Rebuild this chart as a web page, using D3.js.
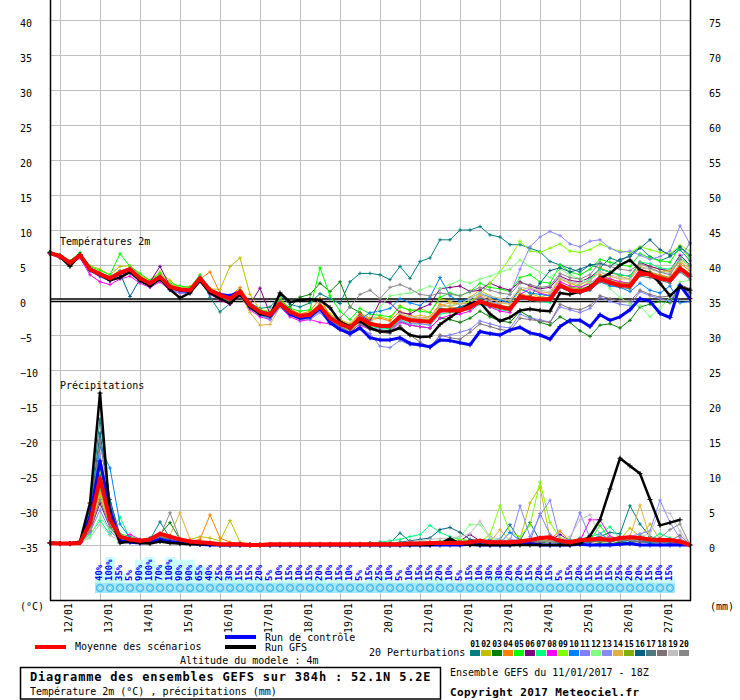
<!DOCTYPE html>
<html>
<head>
<meta charset="utf-8">
<script src="https://cdn.jsdelivr.net/npm/d3@7"></script>
<style>
  body { margin: 0; background: #fff; }
  svg { display: block; font-family: "DejaVu Sans Mono", monospace; }
</style>
</head>
<body>
<svg id="chart" width="740" height="700"></svg>
<script>
// GEFS run 11/01/2017 18Z, 6-hourly steps up to 384h
const hours = d3.range(0, 385, 6);

const tempTicks = [40, 35, 30, 25, 20, 15, 10, 5, 0, -5, -10, -15, -20, -25, -30, -35];
const precipTicks = [75, 70, 65, 60, 55, 50, 45, 40, 35, 30, 25, 20, 15, 10, 5, 0];
const dateHours = [6, 30, 54, 78, 102, 126, 150, 174, 198, 222, 246, 270, 294, 318, 342, 366];
const dateLabels = ['12/01', '13/01', '14/01', '15/01', '16/01', '17/01', '18/01', '19/01',
  '20/01', '21/01', '22/01', '23/01', '24/01', '25/01', '26/01', '27/01'];

// probability of precipitation per 6h slot (%)
const probHours = d3.range(30, 373, 6);
const probValues = [40, 100, 35, 5, 90, 100, 70, 100, 90, 90, 65, 40, 25, 30, 15, 15, 20, 5, 10,
  15, 10, 15, 20, 10, 15, 10, 5, 15, 25, 10, 5, 10, 15, 15, 20, 10, 5, 15,
  10, 30, 30, 20, 20, 15, 20, 15, 5, 15, 20, 15, 15, 15, 25, 20, 20, 15, 10, 15];

const pertColors = ['#008080', '#c0c000', '#008000', '#ff8000', '#00ff00', '#800080', '#00ff80',
  '#ff00ff', '#80ff00', '#0080ff', '#8080ff', '#80ff80', '#8888ff', '#e0b040', '#80b000',
  '#006080', '#507880', '#807078', '#c0c0c0', '#888888'];

// 2m temperature (°C)
const meanTemp = [6.7,6.3,5.3,6.4,4.4,3.7,3.1,3.9,4.4,3.1,2.4,3.3,1.9,
  1.5,1.4,3.1,1.4,0.7,0.2,1.2,-0.7,-1.7,-2.1,-0.5,-1.7,-2.3,
  -2.1,-0.9,-2.6,-3.4,-4.0,-2.6,-3.4,-3.7,-3.7,-2.4,-2.9,-3.0,-3.1,
  -1.5,-1.5,-1.5,-1.0,-0.2,-0.7,-1.0,-1.3,0.5,0.2,0.1,0.1,2.1,
  1.4,1.2,1.7,3.0,2.5,2.1,2.0,3.9,3.6,3.1,2.8,4.5,3.4];
const gfsTemp = [6.8,6.2,4.8,6.5,4.5,3.6,2.8,3.2,4.0,2.8,2.0,3.0,1.5,
  0.3,1.0,2.8,1.0,0.2,-0.5,0.8,-1.0,-2.0,-2.2,1.0,-0.3,0.0,
  0.1,0.0,-1.1,-3.1,-3.8,-3.0,-4.0,-4.5,-4.5,-4.0,-5.0,-5.3,-5.2,
  -3.5,-2.5,-1.5,-0.5,-0.3,-2.0,-3.0,-2.5,-1.5,-1.3,-1.5,-1.6,1.0,
  0.8,1.2,1.9,3.1,3.8,5.0,5.7,4.3,3.8,2.4,0.6,1.9,1.4];
const ctrlTemp = [6.7,6.3,5.2,6.4,4.3,3.6,3.0,3.8,4.3,3.0,2.4,3.2,1.8,
  1.4,1.2,3.0,1.4,0.8,0.6,1.2,-0.8,-1.9,-2.3,-0.6,-2.0,-2.6,
  -2.4,-1.2,-3.2,-4.2,-4.8,-4.0,-5.4,-5.7,-5.7,-5.4,-6.2,-6.4,-6.7,
  -5.7,-5.8,-6.1,-6.4,-4.5,-4.8,-5.0,-4.3,-3.9,-4.7,-5.0,-5.6,-3.8,
  -2.9,-2.9,-3.8,-2.1,-2.9,-2.4,-1.4,0.2,-0.2,-1.9,-2.5,2.1,0.2];
const pertTemp = [
  [6.8,6.2,5.5,6.2,4.6,3.9,3.3,4.2,4.0,3.3,2.6,3.6,2.1, 1.7,1.2,3.4,0.4,-1.7,-0.5,1.0,-0.4,-1.2,-1.0,0.6,-0.6,-1.0,
   -0.4,0.9,0.2,-0.5,2.6,3.8,3.8,3.6,2.9,4.8,3.1,5.5,6.0, 8.6,8.6,10.0,10.0,10.5,9.3,9.0,7.9,7.9,7.4,6.9,5.5,5.0,
   4.5,4.0,5.0,4.6,6.0,5.5,6.5,7.5,6.2,5.6,6.2,7.2,5.6],
  [6.6,6.4,5.6,6.6,4.9,4.4,3.6,4.8,4.9,3.6,2.8,4.0,2.8, 1.6,1.8,3.4,1.6,1.5,4.8,6.0,0.8,-1.4,-1.6,0.2,-1.2,-2.0,
   -1.8,-0.4,-2.0,-2.8,-3.4,-1.8,-2.6,-2.4,-2.8,-0.8,-1.6,-1.2,-1.8, 0.2,-0.2,-0.6,0.4,1.4,0.6,0.2,-0.2,1.6,1.0,0.4,0.8,3.0,
   2.4,1.8,2.6,4.6,4.0,3.4,3.0,5.4,4.8,4.4,4.0,5.8,4.8],
  [6.7,6.3,5.2,6.5,4.3,3.6,3.0,3.8,4.6,3.0,2.2,3.2,1.7, 1.2,1.0,2.9,1.0,0.2,-0.2,0.6,-1.2,-2.2,-2.6,-0.8,-1.0,0.4,
   0.8,2.4,1.2,2.6,-1.0,-1.8,-3.2,-3.8,-4.2,-3.0,-3.6,-3.8,-4.0, -2.6,-2.8,-3.2,-2.6,-1.6,-2.4,-3.0,-3.2,-1.6,-2.4,-3.2,-3.6,-2.4,
   -3.2,-4.4,-5.2,-3.6,-3.4,-4.0,-2.9,-1.0,-0.6,-0.2,-0.4,1.8,1.0],
  [6.5,6.0,5.0,6.2,4.2,3.5,2.9,3.6,4.2,2.9,2.3,3.0,2.2, 1.8,1.9,3.0,4.0,1.0,0.5,1.8,-0.4,-2.0,-2.4,-0.2,-1.4,-2.0,
   -1.6,0.2,-2.2,-3.0,-3.6,-2.0,-2.8,-2.6,-3.0,-1.6,-2.2,-2.6,-2.4, -0.6,-1.0,-1.2,-0.4,0.6,-0.2,-0.8,-1.0,0.8,0.6,0.2,0.0,2.4,
   1.6,1.4,1.8,3.6,3.0,2.6,2.4,4.4,4.0,3.6,3.2,5.2,4.2],
  [6.9,6.5,5.6,6.8,4.8,4.2,3.6,6.6,4.8,3.8,2.8,3.8,2.4, 2.0,1.8,3.6,1.6,0.8,0.2,1.4,-0.6,-1.4,-1.8,0.0,-1.2,-1.6,
   -1.4,4.6,0.6,-1.6,-2.8,-1.2,-2.0,-2.2,-2.4,-1.0,-1.4,-1.6,-1.8, 0.4,1.0,0.6,1.2,2.4,1.8,1.6,1.2,3.2,3.6,2.6,2.4,5.0,
   4.0,3.6,4.4,5.8,5.4,5.0,4.8,6.6,6.0,5.6,5.4,7.6,6.0],
  [6.6,6.2,5.4,6.3,4.4,3.8,3.2,4.0,4.5,3.2,2.6,4.8,2.0, 1.6,1.6,3.3,1.4,0.6,0.0,1.0,-0.6,1.7,-2.0,-0.2,-1.4,-2.2,
   -2.0,-0.6,-2.4,-3.2,-3.8,-2.2,-3.0,-0.2,-0.4,-1.8,-2.0,-1.2,-0.6, 1.6,1.8,2.0,1.2,1.4,2.4,1.8,1.4,2.6,2.0,1.6,1.8,3.4,
   2.8,2.6,3.2,4.4,4.0,3.6,3.4,5.4,4.8,4.4,4.2,6.4,5.0],
  [6.8,6.4,5.4,6.5,4.5,3.6,3.0,3.8,4.3,3.0,2.3,3.2,1.8, 1.4,1.3,3.0,1.2,0.5,0.0,1.0,-0.9,-2.0,-2.4,-0.8,-2.0,-2.6,
   -2.4,-1.2,-3.0,-3.8,-4.4,-3.0,-3.8,-4.0,-4.2,-2.8,-3.4,-3.4,-3.6, -2.0,-1.8,-1.6,-1.4,-0.6,-1.0,-1.4,-1.6,0.4,0.0,-0.2,-0.4,2.0,
   1.6,2.2,3.0,4.4,4.0,3.6,3.4,5.4,5.2,4.6,4.4,6.0,5.0],
  [6.5,6.0,5.0,6.0,3.6,2.6,2.2,3.0,3.4,2.4,1.8,2.6,1.4, 1.0,1.0,2.6,0.8,0.0,-0.6,0.6,-1.4,-2.4,-2.8,-1.0,-2.4,-3.0,
   -2.8,-3.2,-3.4,-4.2,-5.0,-3.6,-4.2,-4.4,-4.6,-3.2,-3.6,-3.8,-4.0, -2.6,-2.2,-2.0,-1.6,-0.4,-1.0,-1.6,-1.8,0.8,1.6,1.0,0.6,2.6,
   2.0,1.8,2.4,3.4,3.0,2.6,2.4,4.4,3.8,3.4,3.0,4.8,3.6],
  [6.7,6.3,5.3,6.3,4.4,3.8,3.3,4.1,4.6,3.4,2.6,3.4,2.2, 1.8,1.6,3.2,1.6,0.8,0.4,1.2,-0.6,-1.6,-2.0,-0.4,-1.6,-2.2,
   -2.0,-0.8,-2.6,-3.2,-3.8,-2.4,-3.2,-3.6,-3.6,-2.2,-2.6,-2.8,-2.8, -1.0,-0.8,-0.6,-0.2,0.8,2.4,4.0,6.0,8.4,7.0,6.8,7.4,8.0,
   7.0,6.8,7.2,8.0,7.4,7.0,6.8,7.6,7.2,6.8,6.6,7.8,7.0],
  [6.8,6.4,5.4,6.4,4.4,3.6,3.0,3.7,4.2,3.0,2.3,3.1,1.8, 1.2,1.2,2.8,1.3,0.4,-0.2,0.9,-1.0,-2.0,-2.5,-0.8,-2.0,-2.6,
   -2.4,-1.4,-2.8,-3.6,-4.2,-2.8,-1.8,-1.6,-1.2,0.2,-0.4,-0.8,0.4, 3.2,0.6,-0.2,0.2,1.0,0.4,0.0,-0.4,1.6,1.0,0.8,0.6,1.8,
   1.2,1.0,1.4,2.6,2.0,1.8,1.2,2.4,1.4,1.0,2.0,-0.4,-0.2],
  [6.6,6.1,5.1,6.1,4.1,3.3,2.7,3.4,3.8,2.6,1.9,2.8,1.4, 1.0,0.9,2.6,0.8,0.2,-0.4,0.6,-1.2,-2.2,-2.8,-1.0,-2.2,-2.8,
   -2.8,-1.8,-3.4,-4.2,-5.0,-4.0,-4.8,-6.6,-6.8,-5.8,-6.4,-6.6,-6.8, -5.2,-5.0,-4.6,-4.2,-3.0,-3.4,-3.8,-4.0,-2.0,-2.6,-2.8,-3.2,-1.0,
   -1.4,-1.8,-1.2,0.4,-0.2,-0.6,-0.8,1.2,0.6,0.2,-0.2,2.0,1.0],
  [6.7,6.2,5.2,6.3,4.3,3.7,3.1,3.8,4.4,3.0,2.4,3.2,1.8, 1.4,1.3,3.0,1.3,0.6,0.0,1.0,-0.8,-1.8,-2.2,-0.6,-1.8,-2.4,
   -2.2,-1.0,-2.8,-3.6,-4.4,-3.0,-3.6,-1.0,0.6,0.8,1.0,1.4,2.0, 1.6,2.2,2.8,2.4,3.0,3.4,4.0,4.4,5.7,4.8,4.0,3.2,4.4,
   3.6,3.0,2.4,3.2,1.6,0.4,-0.6,-0.8,-2.4,-1.2,0.4,2.6,2.8],
  [6.6,6.2,5.2,6.3,4.2,3.5,2.9,3.6,4.0,2.8,2.2,3.0,1.6, 1.2,1.1,2.8,1.0,0.3,-0.2,0.8,-1.0,-2.0,-2.6,-0.8,-2.0,-2.6,
   -2.6,-1.6,-3.0,-3.8,-4.6,-3.4,-4.0,-4.2,-4.4,-3.0,-3.4,-3.4,-3.6, -1.8,-1.4,-1.0,-0.4,0.4,-0.2,-0.6,0.8,4.4,7.6,9.0,9.8,9.2,
   8.0,7.6,8.4,8.6,7.4,6.8,7.0,6.4,5.8,6.2,7.0,10.6,8.0],
  [6.6,6.1,5.1,6.2,4.2,3.5,2.9,3.6,4.1,2.9,2.3,3.1,1.7, 1.4,1.2,2.9,1.2,0.4,-0.1,0.8,-1.8,-3.6,-3.5,-1.0,-2.0,-2.6,
   -2.4,-1.2,-2.8,-3.8,-4.6,-3.0,-3.6,-3.8,-3.4,-2.0,-2.4,-2.2,-2.4, -0.8,-0.4,-0.6,-0.4,0.8,0.2,-0.4,-0.6,1.4,1.8,1.2,1.0,3.0,
   2.4,2.2,2.8,4.0,3.4,3.0,3.0,4.8,4.4,4.0,4.2,5.4,4.6],
  [6.7,6.3,5.4,6.4,4.5,3.8,3.2,4.0,4.5,3.2,2.5,3.4,2.0, 1.6,1.5,3.2,1.5,0.7,0.2,1.2,-0.7,-1.6,-2.0,-0.4,-1.6,-2.2,
   -2.0,-0.8,-2.5,-3.3,-3.9,-2.5,-3.3,-3.5,-3.6,-2.2,-2.6,-2.8,-3.0, -1.4,-1.2,-1.4,-0.8,0.0,-0.4,-0.8,-1.0,0.8,0.4,0.2,0.4,2.2,
   1.8,1.6,2.0,3.4,2.8,2.4,2.4,4.2,4.0,3.4,3.2,4.8,3.8],
  [6.8,6.3,5.3,6.4,4.4,3.7,3.0,3.8,0.5,3.0,2.4,3.2,1.8, 1.4,1.3,3.0,1.3,0.6,0.0,1.0,-0.8,-1.8,-2.2,-0.6,-1.8,-2.4,
   -2.2,-1.0,-2.6,-3.4,-4.2,-2.8,-3.4,-3.8,-3.8,-2.4,-2.8,-3.0,-3.0, -1.2,-1.4,-1.0,-0.6,-0.2,-0.8,-1.0,-1.2,0.6,0.4,2.4,4.2,4.6,
   4.0,4.4,5.0,5.2,4.8,5.8,6.2,7.4,8.6,7.2,6.4,7.6,6.4],
  [6.7,6.2,5.2,6.3,4.3,3.6,3.0,3.8,4.2,3.0,2.3,3.2,1.8, 1.4,1.3,3.0,1.3,0.6,0.1,1.1,-0.8,-1.8,-2.2,-0.6,-1.8,-2.4,
   -2.2,-1.0,-2.7,-3.5,-4.1,-2.7,-3.5,-3.8,-3.8,-2.5,-3.0,-3.1,-3.2, -1.6,-1.6,-1.6,-1.2,-0.4,-0.8,-1.2,-1.4,0.2,0.0,-0.2,-0.2,1.8,
   1.2,1.0,1.4,2.6,2.2,1.8,1.6,3.4,3.2,2.8,2.4,4.0,3.0],
  [6.6,6.1,5.2,6.2,4.3,3.6,3.0,3.7,4.2,3.0,2.3,3.2,1.8, 1.3,1.2,2.9,1.2,0.4,-0.2,0.8,-1.0,-2.0,-2.4,-0.8,-2.0,-2.6,
   -2.6,-1.4,-3.0,-3.8,-4.6,-3.4,-4.2,-4.6,-4.8,-3.6,-5.0,-6.0,-6.8, -5.0,-5.4,-5.6,-4.6,-3.4,-3.8,-4.2,-4.4,-2.6,-2.8,-3.0,-3.2,-0.6,
   -1.2,-1.4,-0.8,0.6,0.2,-0.2,-0.2,1.4,0.8,0.4,0.6,2.2,1.6],
  [6.8,6.4,5.4,6.5,4.6,3.9,3.3,4.0,4.6,3.3,2.6,3.5,2.1, 1.7,1.6,3.3,1.6,0.8,0.3,1.3,-0.6,-1.6,-2.0,-0.3,-1.5,-2.1,
   -1.9,-0.7,-2.4,-3.2,-3.8,-2.4,-3.2,-3.6,-3.4,-2.0,-2.4,-2.6,-2.6, -1.0,-0.8,-0.6,0.2,1.0,0.6,0.2,0.0,1.8,1.6,1.4,1.2,3.2,
   2.6,2.4,2.8,4.0,3.6,3.2,3.0,4.6,4.4,4.0,3.8,5.6,4.4],
  [6.7,6.3,5.3,6.4,4.4,3.7,3.1,3.9,4.3,3.1,2.4,3.3,1.9, 1.5,1.4,3.1,1.4,0.7,0.2,1.2,-0.7,-1.7,-2.1,-0.5,-1.7,-2.3,
   -2.0,-0.8,-2.4,-2.6,-1.0,0.8,1.4,0.2,1.8,2.2,1.6,0.8,0.6, 1.0,0.8,0.6,1.2,1.8,1.4,1.0,0.8,2.4,2.2,1.8,2.0,3.8,
   3.2,3.0,3.6,5.4,4.8,4.4,4.2,5.2,4.6,4.0,3.6,5.8,8.2]
];

// precipitation (mm / 6h)
const meanPrecip = [0.3,0.2,0.2,0.3,3.1,9.5,3.6,1.2,0.8,0.6,0.8,1.6,1.2,
  0.8,0.5,0.4,0.3,0.1,0.1,0.1,0.0,0.0,0.1,0.1,0.1,0.1,
  0.1,0.1,0.1,0.1,0.1,0.1,0.1,0.1,0.1,0.1,0.2,0.2,0.3,
  0.3,0.3,0.3,0.4,0.6,0.4,0.4,0.4,0.5,0.7,1.0,1.1,0.6,
  0.4,0.7,0.8,0.9,0.7,1.0,1.1,1.0,0.8,0.7,0.7,0.5,0.0];
const gfsPrecip = [0.3,0.2,0.2,0.5,6.0,21.7,4.0,0.3,0.5,0.3,0.2,0.5,0.3,
  0.2,0.1,0.1,0.1,0.0,0.0,0.0,0.0,0.0,0.0,0.0,0.0,0.0,
  0.0,0.0,0.0,0.0,0.0,0.0,0.0,0.0,0.0,0.0,0.0,0.0,0.0,
  0.2,0.9,0.2,0.0,0.0,0.0,0.0,0.0,0.0,0.0,0.0,0.0,0.0,
  0.0,0.2,1.3,3.6,8.0,12.4,11.3,10.2,6.5,2.8,3.2,3.6];
const ctrlPrecip = [0.3,0.2,0.2,0.4,4.0,12.0,5.0,0.6,0.4,0.3,0.4,0.8,0.5,
  0.3,0.2,0.1,0.0,0.0,0.0,0.0,0.0,0.0,0.0,0.0,0.0,0.0,
  0.0,0.0,0.0,0.0,0.0,0.0,0.0,0.0,0.0,0.0,0.0,0.0,0.0,
  0.0,0.0,0.0,0.1,0.0,0.0,0.0,0.0,0.1,0.2,0.0,0.0,0.0,
  0.0,0.1,0.0,0.0,0.0,0.1,0.2,0.0,0.0,0.0,0.0,0.0,0.0];
const pertPrecip = [
  [0.3,0.2,0.2,0.4,5.0,18.0,6.0,1.0,0.6,0.5,0.8,3.3,1.0, 0.6,0.4,0.2,0.1,0,0,0,0,0,0,0,0,0,
   0,0,0,0,0,0,0.2,0.4,0.3,1.7,0.5,0.2,0.3, 0.4,0.5,0.3,0.2,0.6,0.4,0.8,2.9,0.6,3.2,0.6,0.4,0.3,
   0.4,1.0,0.6,1.2,1.8,1.6,5.6,3.0,1.2,0.8,0.6,0.3,0],
  [0.3,0.2,0.2,0.3,2.0,7.0,3.0,0.8,0.5,0.4,0.6,1.0,0.8, 0.5,0.8,1.2,1.0,0.6,3.5,0.4,0.1,0,0,0,0,0,
   0,0,0,0,0,0,0.1,0.2,0.1,0.3,0.4,0.2,0.3, 0.2,0.3,0.4,0.2,0.5,0.3,0.6,0.4,0.8,6.0,8.3,1.0,0.4,
   0.3,0.6,0.8,0.5,1.0,0.8,2.4,1.2,3.0,0.8,0.6,0.4,0],
  [0.3,0.2,0.2,0.4,3.0,10.0,4.0,0.6,0.4,0.5,0.9,1.5,3.2, 0.8,0.4,0.3,0.2,0.1,0,0,0,0,0,0,0,0,
   0,0,0,0,0.1,0.2,0.3,0.2,0.1,0,0.1,0.2,0.1, 0,0.1,0,0,0.1,0,0.2,0.1,0.3,0.4,0.2,0.6,0.3,
   0.2,0.1,0,0.3,0.2,0.4,0.3,0.6,0.2,0.1,0.2,0.1,0],
  [0.3,0.2,0.2,0.3,3.5,12.0,4.5,1.0,0.6,0.5,0.7,1.2,0.9, 0.6,0.5,0.8,4.3,1.0,0.4,0.2,0,0,0,0,0,0,
   0,0,0,0,0,0,0,0.1,0,0.2,0.3,0.1,0.2, 0.3,0.2,0.1,0.4,0.3,0.2,0.1,0.5,0.3,0.4,0.6,0.8,2.0,
   0.6,0.4,0.5,0.8,1.2,0.9,0.6,1.0,0.8,0.5,0.4,0.3,0],
  [0.3,0.2,0.2,0.5,2.5,8.0,3.0,1.6,1.2,0.8,0.6,1.0,0.6, 0.4,0.3,0.2,0.1,0,0,0,0,0,0,0,0,0,
   0,0,0,0,0,0,0.1,0,0.1,0.2,0.4,0.2,0.1, 0.2,0.3,0.1,0.2,0.4,0.2,0.3,0.2,0.4,0.5,0.6,0.4,0.3,
   0.2,0.5,0.6,2.8,0.8,0.6,1.0,0.8,0.5,0.4,0.6,0.3,0],
  [0.3,0.2,0.2,0.3,2.0,6.0,2.5,0.8,0.5,0.6,0.9,0.8,0.5, 0.3,0.2,0.1,0,0,0,0,0,0,0,0,0,0,
   0,0,0.1,0.1,0,0.1,0.2,0.1,0,0.1,0.2,0.3,0.2, 0.3,0.5,0.6,1.5,0.6,0.3,0.2,0.4,0.3,0.5,0.4,0.7,1.5,
   0.6,0.5,0.4,0.6,0.8,0.5,0.7,0.4,0.6,0.3,0.5,0.2,0],
  [0.3,0.2,0.2,0.3,1.5,3.5,1.5,4.0,0.8,0.6,0.4,0.6,0.5, 0.3,0.2,0.1,0,0,0,0,0,0,0,0,0,0,
   0,0,0,0,0,0.1,0.2,0.4,0.6,0.8,1.2,1.5,2.8, 1.8,1.2,0.8,0.6,0.4,0.5,0.3,0.4,0.6,0.8,0.5,0.6,0.4,
   0.5,0.8,1.2,1.6,2.6,1.0,0.6,1.4,0.8,1.6,1.0,0.5,0],
  [0.3,0.2,0.2,0.4,2.8,9.0,3.5,0.8,1.5,0.8,0.6,0.9,0.7, 0.4,0.3,0.2,0.1,0,0,0,0,0,0,0,0,0,
   0,0,0,0,0,0,0,0.1,0,0.2,0.1,0.3,0.2, 0.1,0.2,0.3,0.1,0.4,0.2,0.3,0.5,0.2,0.4,0.6,0.5,0.8,
   0.4,0.6,3.6,3.6,1.2,0.8,0.6,0.5,0.8,0.4,0.3,0.2,0],
  [0.3,0.2,0.2,0.3,3.2,11.0,4.2,0.9,0.6,0.5,0.8,1.2,0.8, 0.5,0.4,0.2,0.1,0,0,0,0,0,0,0,0,0,
   0,0,0,0.1,0.2,0.1,0,0.2,0.3,0.2,0.1,0.3,0.4, 0.6,0.5,0.8,0.6,0.4,1.5,5.6,1.8,1.2,2.8,9.0,3.2,1.0,
   0.8,0.6,1.2,0.9,0.7,1.0,0.6,0.8,0.5,0.4,0.6,0.3,0],
  [0.3,0.2,0.2,0.4,4.0,14.0,11.0,3.0,1.0,0.7,0.6,1.0,0.7, 0.5,0.3,0.2,0.1,0,0,0,0,0,0,0,0,0,
   0,0,0,0,0,0.1,0,0.2,0.1,0.3,0.2,0.4,0.3, 0.2,0.4,0.3,0.6,0.4,0.8,0.3,1.8,0.6,0.5,0.4,0.6,0.3,
   0.5,0.4,0.3,1.6,0.8,0.6,0.4,0.5,0.3,0.6,0.4,0.2,0],
  [0.3,0.2,0.2,0.3,1.8,5.0,2.0,0.7,0.5,0.4,0.5,0.7,0.5, 0.3,0.2,0.1,0,0,0,0,0,0,0,0,0,0,
   0,0,0,0,0,0,0.1,0.2,0,0.1,0.2,0.1,0.2, 0.3,0.2,0.4,0.5,0.3,0.6,0.4,0.8,0.6,0.5,4.5,1.5,0.6,
   0.8,4.6,1.0,0.8,0.6,0.9,0.7,0.5,1.0,0.6,0.4,0.3,0],
  [0.3,0.2,0.2,0.3,1.2,4.0,2.2,1.0,0.7,0.5,0.6,0.9,0.6, 0.4,0.3,0.2,0.1,0,0,0,0,0,0,0,0,0,
   0,0,0,0,0,0,0,0.1,0.2,0.4,0.3,0.5,0.4, 0.6,0.8,1.2,2.9,2.9,1.0,0.6,0.4,0.5,0.7,0.6,0.4,0.3,
   0.4,0.6,0.5,0.8,1.0,0.7,0.5,1.2,0.8,0.6,0.5,0.4,0],
  [0.3,0.2,0.2,0.4,3.8,13.0,5.0,1.2,0.8,0.6,0.7,1.0,0.6, 0.4,0.3,0.2,0.1,0,0,0,0,0,0,0,0,0,
   0,0,0,0,0,0,0.1,0,0.1,0.2,0.3,0.2,0.3, 0.4,0.3,0.5,0.2,0.6,0.4,0.8,0.5,5.6,1.2,4.2,6.4,0.6,
   0.5,0.8,0.6,1.0,0.7,0.8,1.2,1.6,2.0,6.4,3.2,1.0,0],
  [0.3,0.2,0.2,0.3,2.4,7.5,3.2,0.8,0.6,0.5,0.6,1.0,1.4, 4.6,0.8,0.4,0.2,0.1,0,0,0,0,0,0,0,0,
   0,0,0,0,0,0,0,0.1,0,0.1,0.2,0.1,0.2, 0.3,0.2,0.4,0.3,0.5,0.4,2.2,0.6,0.4,0.5,0.8,0.6,0.4,
   0.6,0.4,0.8,0.6,0.5,0.9,1.2,5.7,1.0,0.8,0.6,0.4,0],
  [0.3,0.2,0.2,0.4,2.6,9.5,3.8,1.0,0.6,0.5,0.8,1.1,0.9, 0.6,0.3,0.2,0.1,0,0,0,0,0,0,0,0,0,
   0,0,0,0,0,0,0,0,0.1,0,0.2,0.1,0.2, 0.2,0.3,0.2,0.4,0.3,0.5,0.4,0.6,0.3,0.4,0.5,0.7,0.5,
   0.6,0.8,0.5,0.4,0.7,0.6,0.9,0.8,0.6,0.5,0.4,0.3,0],
  [0.3,0.2,0.2,0.4,4.5,16.0,6.5,1.4,0.8,0.7,1.0,1.6,1.0, 0.6,0.4,0.2,0.1,0,0,0,0,0,0,0,0,0,
   0,0,0,0,0,0,0,0.1,0.2,0.4,0.6,0.8,1.0, 2.2,2.5,1.8,0.8,0.6,0.4,0.3,0.5,0.4,0.6,0.8,1.0,0.6,
   0.5,0.7,0.9,0.6,0.8,1.2,1.0,0.8,0.6,0.5,0.6,0.4,0],
  [0.3,0.2,0.2,0.3,3.4,11.5,4.4,0.9,0.6,0.5,0.7,1.0,0.8, 0.5,0.3,0.2,0.1,0,0,0,0,0,0,0,0,0,
   0,0,0,0,0,0,0,0,0,0.1,0.1,0.2,0.1, 0.2,0.3,0.2,0.4,0.3,0.2,0.4,0.3,0.5,0.6,0.4,0.5,0.3,
   0.4,0.3,0.5,0.6,0.4,0.8,0.6,0.5,0.7,0.6,0.4,0.3,0],
  [0.3,0.2,0.2,0.4,4.2,15.0,5.6,1.2,0.7,0.6,0.8,1.2,0.8, 0.5,0.3,0.2,0.1,0,0,0,0,0,0,0,0,0,
   0,0,0,0,0,0,0,0,0.1,0,0.1,0.2,0.1, 0.2,0.1,0.3,0.2,0.4,0.3,0.2,0.4,0.5,0.3,0.4,0.6,0.4,
   0.3,0.5,0.4,0.6,0.5,0.8,0.6,0.4,0.5,0.3,0.6,1.4,0],
  [0.3,0.2,0.2,0.3,1.0,3.0,1.4,0.6,0.4,0.5,0.6,0.8,0.6, 0.3,0.2,0.1,0,0,0,0,0,0,0,0,0,0,
   0,0,0,0,0,0,0.1,0.2,0.4,0.3,0.5,0.6,0.8, 0.9,1.0,1.2,1.6,3.4,1.2,0.8,0.6,0.7,0.9,0.6,0.5,0.8,
   1.2,3.6,4.3,1.4,0.8,1.0,0.8,1.2,1.6,5.0,4.5,2.0,0],
  [0.3,0.2,0.2,0.3,2.0,6.5,2.6,0.8,0.5,0.6,0.8,1.2,4.6, 0.8,0.4,0.2,0.1,0,0,0,0,0,0,0,0,0,
   0,0,0,0,0,0,0,0.1,0.2,0.1,0.2,0.3,0.2, 0.4,0.3,0.2,0.5,0.4,0.3,0.6,0.4,0.8,0.5,0.6,0.4,0.5,
   0.6,0.4,0.8,0.6,0.5,0.7,0.9,1.2,0.8,1.0,2.2,3.0,0]
];

const svg = d3.select('#chart');
const x = d3.scaleLinear().domain([0, 384]).range([50, 690]);
const yT = d3.scaleLinear().domain([-35, 40]).range([545, 20]);
const yP = d3.scaleLinear().domain([0, 75]).range([545, 20]);
const crisp = v => Math.round(v) + 0.5;

// Grid
const grid = svg.append('g').attr('stroke', '#c0c0c0').attr('stroke-width', 1);
grid.selectAll('line.h').data(tempTicks).join('line').attr('class', 'h')
  .attr('x1', 51).attr('x2', 690)
  .attr('y1', d => crisp(yT(d))).attr('y2', d => crisp(yT(d)));
grid.selectAll('line.v').data(dateHours).join('line').attr('class', 'v')
  .attr('x1', d => crisp(x(d))).attr('x2', d => crisp(x(d)))
  .attr('y1', 0).attr('y2', 600);

// 0°C line (double)
svg.append('g').attr('stroke', '#000').attr('stroke-width', 1.4)
  .selectAll('line').data([-1, 1.6]).join('line')
  .attr('x1', 50).attr('x2', 690)
  .attr('y1', d => yT(0) + d).attr('y2', d => yT(0) + d);

// Probability bars, labels and snow symbols
const probG = svg.append('g');
probG.selectAll('rect').data(probValues).join('rect')
  .attr('x', (d, i) => x(probHours[i]) - 5).attr('width', 10)
  .attr('y', d => 583 - d * 0.26).attr('height', d => d * 0.26)
  .attr('fill', '#ccffff');
probG.selectAll('text').data(probValues).join('text')
  .attr('transform', (d, i) => `translate(${x(probHours[i]) + 1.5},581) rotate(-90)`)
  .attr('font-size', 9).attr('font-weight', 'bold').attr('fill', '#0000ff')
  .text(d => d + '%');
const snow = probG.selectAll('g.snow').data(probHours).join('g').attr('class', 'snow')
  .attr('transform', d => `translate(${x(d)},588)`);
snow.append('rect').attr('x', -5).attr('y', -5).attr('width', 10).attr('height', 10).attr('fill', '#a6e6fb');
snow.append('circle').attr('r', 4.2).attr('fill', '#4fc0f0');
snow.append('path').attr('d', 'M-3,0h6M0,-3v6M-2,-2l4,4M2,-2l-4,4')
  .attr('stroke', '#d8f6ff').attr('stroke-width', 0.8);

// Series
const plot = svg.append('g');
function drawSeries(values, y, color, width) {
  const line = d3.line().x((d, i) => x(hours[i])).y(d => y(d));
  plot.append('path').datum(values).attr('d', line)
    .attr('fill', 'none').attr('stroke', color).attr('stroke-width', width)
    .attr('stroke-linejoin', 'round');
  const s = width > 2 ? 2.5 : 1.8;
  plot.append('path')
    .attr('d', values.map((v, i) => {
      const px = x(hours[i]), py = y(v);
      return `M${px - s},${py}h${2 * s}M${px},${py - s}v${2 * s}`;
    }).join(''))
    .attr('stroke', color).attr('stroke-width', 1);
}
pertTemp.forEach((s, k) => drawSeries(s, yT, pertColors[k], 1));
pertPrecip.forEach((s, k) => drawSeries(s, yP, pertColors[k], 1));
drawSeries(ctrlTemp, yT, '#0000ff', 3);
drawSeries(ctrlPrecip, yP, '#0000ff', 3);
drawSeries(gfsTemp, yT, '#000000', 2.5);
drawSeries(gfsPrecip, yP, '#000000', 2.5);
drawSeries(meanTemp, yT, '#ff0000', 4);
drawSeries(meanPrecip, yP, '#ff0000', 4);

// Frame
svg.append('path').attr('d', 'M50.5,0V600.5H690.5V0')
  .attr('fill', 'none').attr('stroke', '#000').attr('stroke-width', 1.5);

// Axes
function styleAxis(g) {
  g.select('.domain').remove();
  g.selectAll('line').remove();
  g.attr('font-family', null).attr('font-size', 10);
  g.selectAll('text').attr('text-anchor', 'start').attr('x', 0).attr('dy', '0.32em').attr('fill', '#000');
}
svg.append('g').attr('transform', 'translate(20,3)')
  .call(d3.axisLeft(yT).tickValues(tempTicks).tickSize(0).tickPadding(0))
  .call(styleAxis);
svg.append('g').attr('transform', 'translate(709,3)')
  .call(d3.axisRight(yP).tickValues(precipTicks).tickSize(0).tickPadding(0))
  .call(styleAxis);
svg.append('g')
  .call(d3.axisBottom(x).tickValues(dateHours).tickFormat((d, i) => dateLabels[i]).tickSize(0))
  .call(g => {
    g.select('.domain').remove();
    g.selectAll('line').remove();
    g.attr('font-family', null).attr('font-size', 10);
    g.selectAll('text').attr('y', null).attr('dy', null).attr('fill', '#000')
      .attr('text-anchor', 'start').attr('transform', 'translate(11,633) rotate(-90)');
  });

// Labels
const label = (txt, px, py, opts = {}) => svg.append('text')
  .attr('x', px).attr('y', py).attr('font-size', opts.size || 10)
  .attr('font-weight', opts.bold ? 'bold' : null)
  .attr('letter-spacing', opts.ls || null)
  .attr('text-anchor', opts.anchor || 'start').text(txt);
label('Températures 2m', 60, 245);
label('Précipitations', 60, 389);
label('(°C)', 20, 610);
label('(mm)', 710, 610);

// Legend
const legend = [
  { name: 'Moyenne des scénarios', color: '#ff0000', lx: 35, ty: 650, ly: 647 },
  { name: 'Run de contrôle', color: '#0000ff', lx: 225, ty: 641, ly: 637 },
  { name: 'Run GFS', color: '#000000', lx: 225, ty: 651, ly: 647 }
];
legend.forEach(l => {
  svg.append('line').attr('x1', l.lx).attr('x2', l.lx + 31)
    .attr('y1', l.ly).attr('y2', l.ly).attr('stroke', l.color).attr('stroke-width', 4);
  label(l.name, l.lx + 40, l.ty);
});
label('Altitude du modele : 4m', 180, 664);
label('20 Perturbations', 369, 656);
const sw = svg.append('g');
sw.selectAll('rect').data(pertColors).join('rect')
  .attr('x', (d, i) => 470 + i * 11).attr('y', 650).attr('width', 10).attr('height', 6)
  .attr('fill', d => d);
sw.selectAll('text').data(pertColors).join('text')
  .attr('x', (d, i) => 475 + i * 11).attr('y', 647).attr('text-anchor', 'middle')
  .attr('font-size', 8).attr('font-weight', 'bold')
  .text((d, i) => String(i + 1).padStart(2, '0'));

// Title block
svg.append('rect').attr('x', 20.5).attr('y', 667.5).attr('width', 420).attr('height', 31.5)
  .attr('fill', 'none').attr('stroke', '#000').attr('stroke-width', 1.5);
label('Diagramme des ensembles GEFS sur 384h : 52.1N 5.2E', 30, 681, { bold: true, size: 12, ls: 0.8 });
label('Température 2m (°C) , précipitations (mm)', 30, 695);
label('Ensemble GEFS du 11/01/2017 - 18Z', 450, 676);
label('Copyright 2017 Meteociel.fr', 450, 696, { bold: true, size: 11, ls: 0.4 });
</script>
</body>
</html>
